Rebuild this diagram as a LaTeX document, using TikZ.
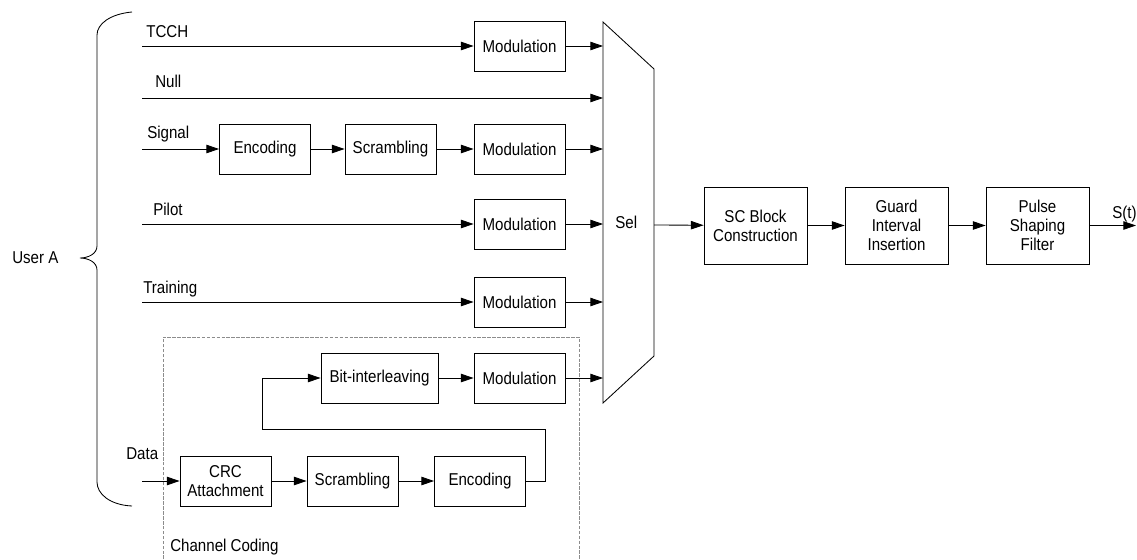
\documentclass[tikz,border=0pt]{standalone}
\usepackage{fontspec}
\setmainfont{Liberation Sans}[FakeStretch=0.88]
\usetikzlibrary{arrows.meta,calc,positioning}
\tikzset{
    myblock/.style={draw=black,line width=0.6pt,minimum width=2.275cm,minimum height=1.25cm,inner sep=1pt,align=center},
    mybigblock/.style={myblock,minimum width=2.575cm,minimum height=1.925cm},
    myedge/.style={line width=0.6pt,draw=black},
    myarrow/.style={myedge,-{Triangle[length=9pt,width=6pt]}},
    mylabel/.style={inner sep=0pt,anchor=base west},
    mydash/.style={draw=black!45,line width=0.6pt,dash pattern=on 2.5pt off 1pt},
    every node/.style={font=\fontsize{12.2}{13.5}\selectfont}
}
\begin{document}
\begin{tikzpicture}[x=0.025cm,y=-0.025cm]
          \useasboundingbox (0,0) rectangle (1137,559);
          % brace for user A
          \draw[myedge] (132,12) .. controls (110,14) and (97,24) .. (97,35) -- (97,246)
                .. controls (97,254) and (88,258) .. (80,258)
                .. controls (88,258) and (97,262) .. (97,270) -- (97,482)
                .. controls (97,494) and (110,505) .. (132,506);
          \node[mylabel] (usera) at (12,263) {User A};
          % selector
          \coordinate (seltl) at (603,22);
          \coordinate (seltr) at (654,69);
          \coordinate (selbr) at (654,356);
          \coordinate (selbl) at (603,403);
          \draw[myedge] (seltl) -- (seltr) -- (selbr) -- (selbl) -- cycle;
          \node[mylabel] (sel) at (615,228) {Sel};
          \coordinate (selout) at (654,225);
          % input rows
          \coordinate (tcch) at (142,46);
          \coordinate (null) at (142,98);
          \coordinate (signal) at (142,149);
          \coordinate (pilot) at (142,224);
          \coordinate (train) at (142,302);
          \coordinate (data) at (142,481);
          \node[mylabel] (ltcch) at (146,37) {TCCH};
          \node[mylabel] (lnull) at (155,87) {Null};
          \node[mylabel] (lsignal) at (147,138) {Signal};
          \node[mylabel] (lpilot) at (153,215) {Pilot};
          \node[mylabel] (ltrain) at (143,293) {Training};
          \node[mylabel] (ldata) at (126,459) {Data};
          % blocks
          \node[myblock] (mod1) at (519.5,46) {Modulation};
          \node[myblock] (enc1) at (265,149) {Encoding};
          \node[myblock] (scr1) at (390.5,149) {Scrambling};
          \node[myblock] (mod2) at (519.5,149) {Modulation};
          \node[myblock] (mod3) at (519.5,224) {Modulation};
          \node[myblock] (mod4) at (519.5,302) {Modulation};
          \node[myblock,minimum width=2.925cm] (bitil) at (379.5,378) {Bit-interleaving};
          \node[myblock] (mod5) at (519.5,378) {Modulation};
          \node[myblock] (crc) at (225.5,481) {CRC\\Attachment};
          \node[myblock] (scr2) at (352.5,481) {Scrambling};
          \node[myblock] (enc2) at (480,481) {Encoding};
          \node[mybigblock] (scb) at (755.5,225.5) {SC Block\\Construction};
          \node[mybigblock] (gii) at (896.5,225.5) {Guard\\Interval\\Insertion};
          \node[mybigblock] (psf) at (1037.5,225.5) {Pulse\\Shaping\\Filter};
          \coordinate (st) at (1136,225.5);
          \node[mylabel] (lst) at (1112,218) {S(t)};
          % channel coding frame
          \draw[mydash] (163,559) |- (579,337) -- (579,559);
          \node[mylabel] (lcc) at (170,551) {Channel Coding};
          % connections
          \draw[myarrow] (tcch) -- (mod1);
          \draw[myarrow] (signal) -- (enc1);
          \draw[myarrow] (enc1) -- (scr1);
          \draw[myarrow] (scr1) -- (mod2);
          \draw[myarrow] (pilot) -- (mod3);
          \draw[myarrow] (train) -- (mod4);
          \draw[myarrow] (bitil) -- (mod5);
          \draw[myarrow] (data) -- (crc);
          \draw[myarrow] (crc) -- (scr2);
          \draw[myarrow] (scr2) -- (enc2);
          \draw[myarrow] (enc2.east) -- ++(19,0) |- (262,429) |- (bitil.west);
          \draw[myarrow] (null) -- (null -| seltl);
          \foreach \M in {mod1,mod2,mod3,mod4,mod5}{\draw[myarrow] (\M.east) -- (\M.east -| seltl);}
          \draw[myarrow] (selout) -- (scb);
          \draw[myarrow] (scb) -- (gii);
          \draw[myarrow] (gii) -- (psf);
          \draw[myarrow] (psf) -- (st);
        \end{tikzpicture}
\end{document}
